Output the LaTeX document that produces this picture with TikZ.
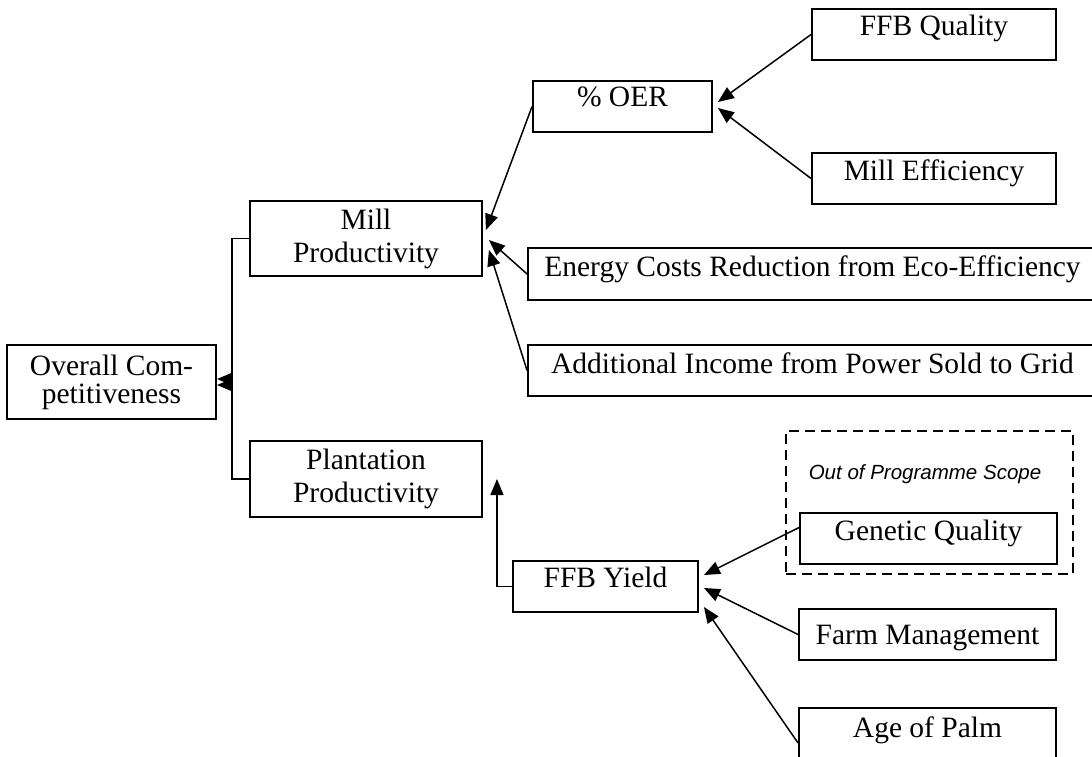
\documentclass[tikz,border=0pt]{standalone}
\usepackage{fontspec}
\setmainfont{Liberation Serif}
\newfontfamily\scopefont{Liberation Sans}
\usetikzlibrary{arrows.meta}
\begin{document}
\begin{tikzpicture}[x=1pt,y=-1pt,
  box/.style={draw, line width=1.9pt, align=center, inner sep=0pt,
    font=\fontsize{29.5}{33}\selectfont},
  one/.style={text height=20pt, text depth=#1},
  arr/.style={line width=1.5pt, -{Triangle[length=16pt,width=13pt]}},
  elbow/.style={line width=1.5pt, -{Triangle[length=16pt,width=13pt]}},
  scopebox/.style={draw, line width=1.6pt, dash pattern=on 10pt off 6pt, inner sep=0pt}
]
\useasboundingbox (0,0) rectangle (1092,756);

% nodes
\node[box, minimum width=209pt, minimum height=74pt, font=\fontsize{29.5}{28}\selectfont] (over) at (111.5,382) {Overall Com-\\petitiveness};
\node[box, minimum width=232pt, minimum height=75pt] (mill) at (366,238.5) {Mill\\Productivity};
\node[box, minimum width=232pt, minimum height=76pt] (plant) at (366,479) {Plantation\\Productivity};
\node[box, one=20pt, minimum width=179pt, minimum height=51pt] (oer) at (622.5,106.5) {\% OER};
\node[box, one=19pt, minimum width=244pt, minimum height=51pt] (ffbq) at (934,34.5) {FFB Quality};
\node[box, one=17pt, minimum width=244pt, minimum height=51pt] (meff) at (934,178.5) {Mill Efficiency};
\node[box, one=15pt, minimum width=569pt, minimum height=52pt] (energy) at (812.5,274) {Energy Costs Reduction from Eco-Efficiency};
\node[box, one=15pt, minimum width=569pt, minimum height=51pt] (addl) at (812.5,370.5) {Additional Income from Power Sold to Grid};
\node[scopebox, minimum width=287pt, minimum height=143pt] (scope) at (929.5,502.5) {};
\node[font=\scopefont\itshape\fontsize{20.5}{24}\selectfont, inner sep=0pt] (scopelabel) at (925,474) {Out of Programme Scope};
\node[box, one=17pt, minimum width=257pt, minimum height=51pt] (gq) at (928.5,538.5) {Genetic Quality};
\node[box, one=18pt, minimum width=185pt, minimum height=51pt] (fy) at (605.5,586.5) {FFB Yield};
\node[box, one=1pt, minimum width=257pt, minimum height=51pt] (farm) at (927.5,634.5) {Farm Management};
\node[box, one=12pt, minimum width=257pt, minimum height=51pt] (age) at (927.5,733.5) {Age of Palm};

% connectors
\draw[elbow] (mill.west) -- ++(-17,0) |- ([yshift=3pt]over.east);
\draw[elbow] (plant.west) -- ++(-17,0) |- ([yshift=-3pt]over.east);
\draw[arr] (oer.west) -- ([xshift=3pt,yshift=8.5pt]mill.east);
\draw[arr] (energy.west) -- ([xshift=6pt,yshift=-1.5pt]mill.east);
\draw[arr] (addl.west) -- ([xshift=6pt,yshift=-11.5pt]mill.east);
\draw[arr] (ffbq.west) -- ([xshift=5pt,yshift=4.5pt]oer.east);
\draw[arr] (meff.west) -- ([xshift=5pt,yshift=-1.5pt]oer.east);
\draw[elbow] (fy.west) -| ([xshift=14pt]plant.east);
\draw[arr] ([yshift=11pt]gq.west) -- ([xshift=5pt,yshift=11.5pt]fy.east);
\draw[arr] (farm.west) -- ([xshift=5pt,yshift=-1.5pt]fy.east);
\draw[arr] ([yshift=-9.5pt]age.west) -- ([xshift=5pt,yshift=-20.5pt]fy.east);
\end{tikzpicture}
\end{document}
